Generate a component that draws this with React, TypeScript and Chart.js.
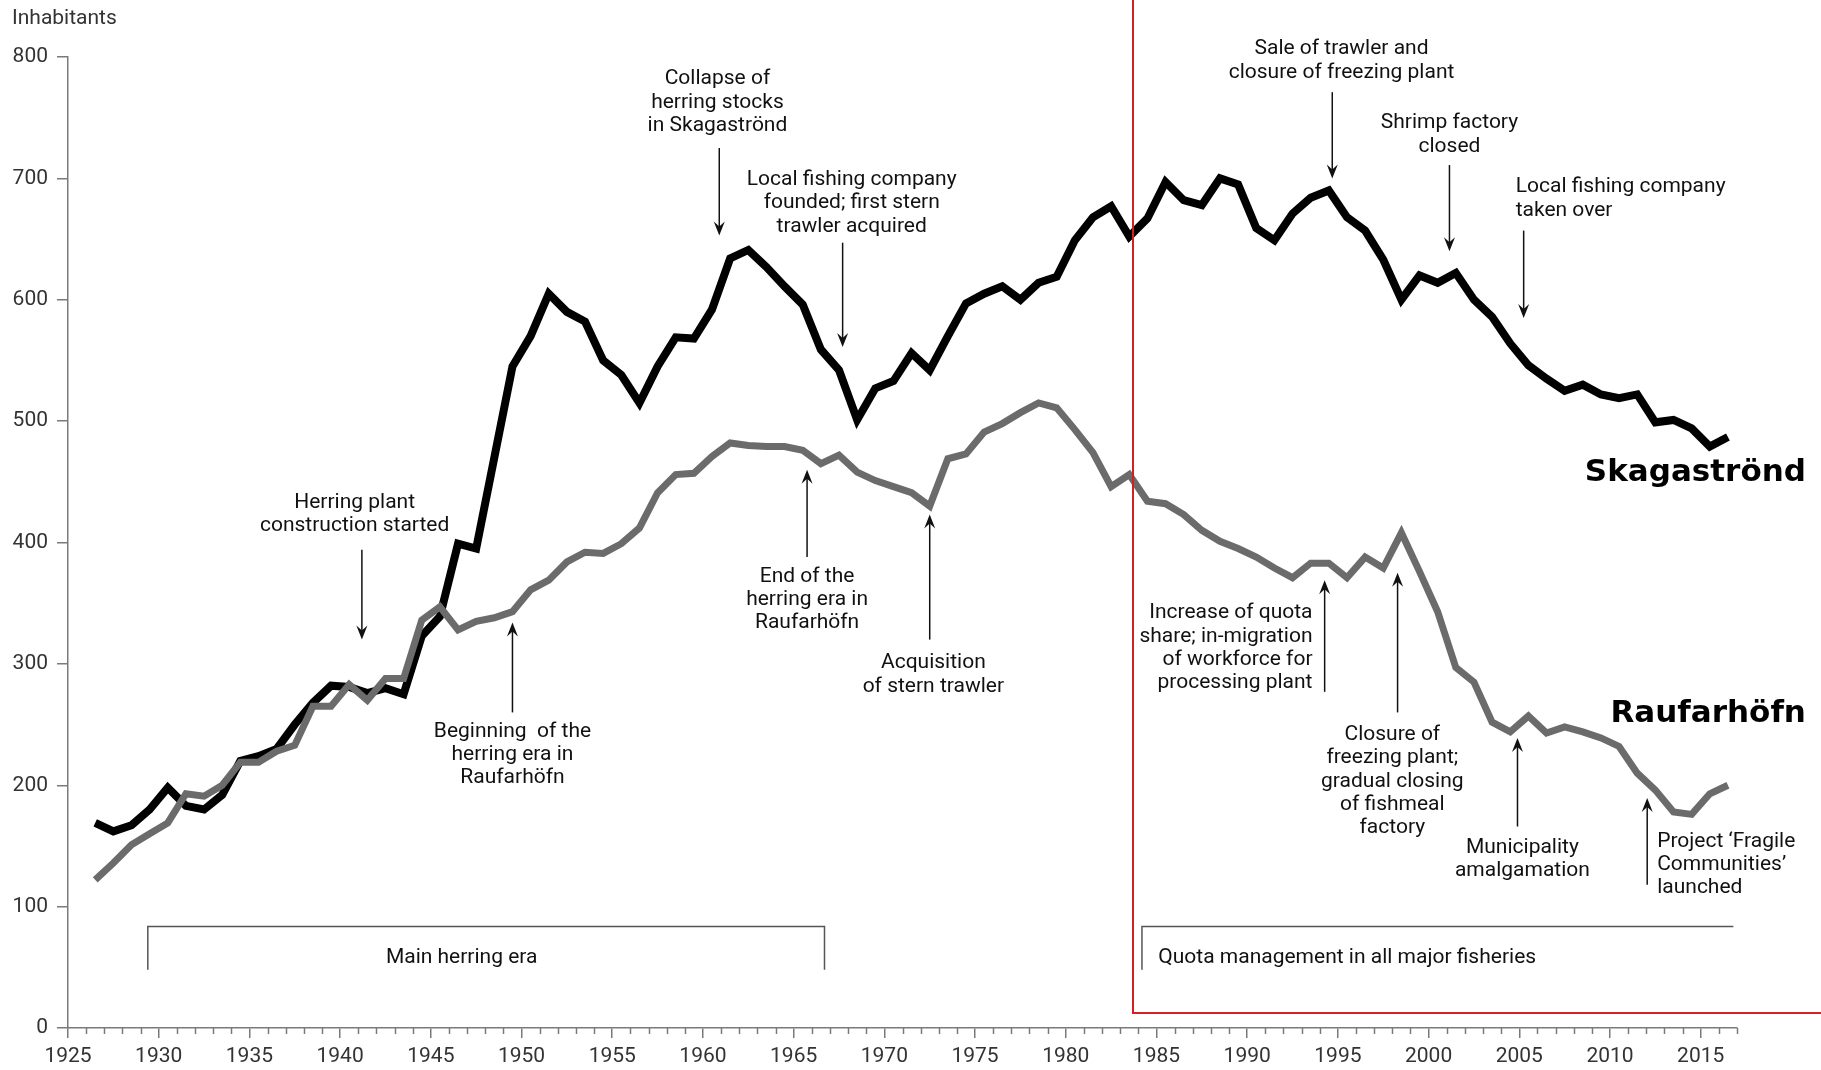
import React, { useEffect, useRef } from 'react';
import { Chart, registerables } from 'chart.js';

Chart.register(...registerables);

// ---------- data ----------
const YEARS = [
  1926, 1927, 1928, 1929, 1930, 1931, 1932, 1933, 1934, 1935,
  1936, 1937, 1938, 1939, 1940, 1941, 1942, 1943, 1944, 1945,
  1946, 1947, 1948, 1949, 1950, 1951, 1952, 1953, 1954, 1955,
  1956, 1957, 1958, 1959, 1960, 1961, 1962, 1963, 1964, 1965,
  1966, 1967, 1968, 1969, 1970, 1971, 1972, 1973, 1974, 1975,
  1976, 1977, 1978, 1979, 1980, 1981, 1982, 1983, 1984, 1985,
  1986, 1987, 1988, 1989, 1990, 1991, 1992, 1993, 1994, 1995,
  1996, 1997, 1998, 1999, 2000, 2001, 2002, 2003, 2004, 2005,
  2006, 2007, 2008, 2009, 2010, 2011, 2012, 2013, 2014, 2015,
  2016,
];

const SKAGASTROND = [
  169, 162, 167, 180, 198, 183, 180, 192, 220, 224,
  230, 250, 268, 282, 281, 276, 280, 275, 323, 339,
  399, 395, 470, 545, 570, 605, 590, 582, 550, 538,
  515, 545, 569, 568, 592, 634, 641, 627, 611, 596,
  559, 542, 501, 527, 533, 556, 542, 570, 597, 605,
  611, 600, 614, 619, 649, 668, 677, 652, 667, 697,
  682, 678, 700, 695, 659, 649, 671, 684, 690, 668,
  657, 633, 600, 620, 614, 622, 600, 586, 564, 546,
  535, 525, 530, 522, 519, 522, 499, 501, 494, 479,
  487,
];

const RAUFARHOFN = [
  122, 136, 151, 160, 169, 193, 191, 200, 219, 219,
  228, 233, 265, 265, 283, 270, 288, 288, 336, 347,
  328, 335, 338, 343, 361, 369, 384, 392, 391, 399,
  412, 441, 456, 457, 471, 482, 480, 479, 479, 476,
  465, 472, 458, 451, 446, 441, 430, 469, 473, 491,
  498, 507, 515, 511, 493, 474, 446, 456, 434, 432,
  423, 410, 401, 395, 388, 379, 371, 383, 383, 371,
  388, 379, 408, 376, 343, 297, 285, 252, 244, 257,
  243, 248, 244, 239, 232, 210, 196, 178, 176, 193,
  200,
];

const X_TICKS = [1925, 1930, 1935, 1940, 1945, 1950, 1955, 1960, 1965, 1970, 1975, 1980, 1985, 1990, 1995, 2000, 2005, 2010, 2015];
const Y_TICKS = [0, 100, 200, 300, 400, 500, 600, 700, 800];

const SERIES_NAMES = ['Skagaströnd', 'Raufarhöfn'];

// annotations: text anchor (year, value), arrow (year, tail value -> tip value)
const ANNOTATIONS = [
  { lines: ['Herring plant', 'construction started'], tx: 1940.8, ty: 432.6, align: 'center', ax: 1941.2, a0: 394, a1: 320 },
  { lines: ['Beginning  of the', 'herring era in', 'Raufarhöfn'], tx: 1949.5, ty: 244.3, align: 'center', ax: 1949.5, a0: 260, a1: 334 },
  { lines: ['Collapse of', 'herring stocks', 'in Skagaströnd'], tx: 1960.8, ty: 781.9, align: 'center', ax: 1960.9, a0: 725, a1: 653 },
  { lines: ['Local fishing company', 'founded; first stern', 'trawler acquired'], tx: 1968.2, ty: 698.8, align: 'center', ax: 1967.7, a0: 647, a1: 561 },
  { lines: ['End of the', 'herring era in', 'Raufarhöfn'], tx: 1965.74, ty: 372, align: 'center', ax: 1965.74, a0: 388, a1: 460 },
  { lines: ['Acquisition', 'of stern trawler'], tx: 1972.7, ty: 300.7, align: 'center', ax: 1972.5, a0: 320, a1: 423 },
  { lines: ['Sale of trawler and', 'closure of freezing plant'], tx: 1995.2, ty: 806.4, align: 'center', ax: 1994.69, a0: 771, a1: 700 },
  { lines: ['Shrimp factory', 'closed'], tx: 2001.15, ty: 745.5, align: 'center', ax: 2001.15, a0: 711, a1: 640 },
  { lines: ['Local fishing company', 'taken over'], tx: 2004.8, ty: 692.7, align: 'left', ax: 2005.24, a0: 657, a1: 585 },
  { lines: ['Increase of quota', 'share; in-migration', 'of workforce for', 'processing plant'], tx: 1993.6, ty: 341.8, align: 'right', ax: 1994.27, a0: 277, a1: 369 },
  { lines: ['Closure of', 'freezing plant;', 'gradual closing', 'of fishmeal', 'factory'], tx: 1998.0, ty: 241.6, align: 'center', ax: 1998.29, a0: 260, a1: 375 },
  { lines: ['Municipality', 'amalgamation'], tx: 2005.17, ty: 148.8, align: 'center', ax: 2004.9, a0: 166, a1: 239 },
  { lines: ['Project ‘Fragile', 'Communities’', 'launched'], tx: 2012.6, ty: 153.7, align: 'left', ax: 2012.05, a0: 118, a1: 189.5 },
];

const SERIES_LABELS = [
  { text: 'Skagaströnd', x: 2020.8, y: 457 },
  { text: 'Raufarhöfn', x: 2020.8, y: 259 },
];

const PERIODS = [
  { text: 'Main herring era', from: 1929.4, to: 1966.7, closed: true, textX: 1946.7, align: 'center' },
  { text: 'Quota management in all major fisheries', from: 1984.2, to: 2016.8, closed: false, textX: 1985.1, align: 'left' },
];

const QUOTA_BOX_YEAR = 1983.7;

// ---------- styles ----------
const AXIS = '#7a7a7a';
const TEXT = '#111';
const TICK_TEXT = '#333';
const FONT = 'Roboto';

function drawArrow(ctx: CanvasRenderingContext2D, x: number, yTail: number, yTip: number) {
  const dir = yTip > yTail ? 1 : -1;
  ctx.beginPath();
  ctx.moveTo(x, yTail);
  ctx.lineTo(x, yTip - dir * 8);
  ctx.stroke();
  ctx.beginPath();
  ctx.moveTo(x, yTip);
  ctx.lineTo(x - 5.5, yTip - dir * 14);
  ctx.lineTo(x, yTip - dir * 9);
  ctx.lineTo(x + 5.5, yTip - dir * 14);
  ctx.closePath();
  ctx.fill();
}

const overlayPlugin = {
  id: 'overlay',
  afterDraw(chart: any) {
    const ctx: CanvasRenderingContext2D = chart.ctx;
    const xs = chart.scales.x;
    const ys = chart.scales.y;
    const px = (v: number) => xs.getPixelForValue(v);
    const py = (v: number) => ys.getPixelForValue(v);
    ctx.save();

    // minor ticks
    ctx.strokeStyle = AXIS;
    ctx.lineWidth = 1.5;
    const y0 = py(0);
    for (let yr = Math.ceil(xs.min); yr <= xs.max; yr++) {
      if (yr % 5 === 0) continue;
      const xx = Math.round(px(yr)) + 0.5;
      ctx.beginPath();
      ctx.moveTo(xx, y0);
      ctx.lineTo(xx, y0 + 6);
      ctx.stroke();
    }

    // y axis title
    ctx.fillStyle = TICK_TEXT;
    ctx.font = `21px ${FONT}`;
    ctx.textAlign = 'left';
    ctx.textBaseline = 'middle';
    ctx.fillText('Inhabitants', 12, 19);

    // period brackets
    ctx.strokeStyle = '#555';
    ctx.lineWidth = 1.5;
    const bTop = py(83.7);
    const bBot = py(48);
    PERIODS.forEach((p) => {
      ctx.beginPath();
      ctx.moveTo(px(p.from), bBot);
      ctx.lineTo(px(p.from), bTop);
      ctx.lineTo(px(p.to), bTop);
      if (p.closed) ctx.lineTo(px(p.to), bBot);
      ctx.stroke();
      ctx.fillStyle = TEXT;
      ctx.font = `21px ${FONT}`;
      ctx.textAlign = p.align as CanvasTextAlign;
      ctx.textBaseline = 'middle';
      ctx.fillText(p.text, px(p.textX), py(57.9));
    });

    // annotations
    ctx.strokeStyle = '#111';
    ctx.fillStyle = '#111';
    ctx.lineWidth = 1.5;
    ANNOTATIONS.forEach((a) => {
      drawArrow(ctx, px(a.ax), py(a.a0), py(a.a1));
      ctx.font = `21px ${FONT}`;
      ctx.textAlign = a.align as CanvasTextAlign;
      ctx.textBaseline = 'middle';
      a.lines.forEach((line, i) => {
        ctx.fillText(line, px(a.tx), py(a.ty) + i * 23.3);
      });
    });

    // series labels
    ctx.fillStyle = '#000';
    ctx.font = `bold 31px "DejaVu Sans"`;
    ctx.textAlign = 'right';
    ctx.textBaseline = 'middle';
    SERIES_LABELS.forEach((l) => ctx.fillText(l.text, px(l.x), py(l.y)));

    // red quota box
    ctx.strokeStyle = '#d42020';
    ctx.lineWidth = 2;
    const rx = Math.round(px(QUOTA_BOX_YEAR));
    const rb = Math.round(py(12.4));
    ctx.beginPath();
    ctx.moveTo(rx, 0);
    ctx.lineTo(rx, rb);
    ctx.lineTo(chart.width + 5, rb);
    ctx.stroke();

    ctx.restore();
  },
};

export default function App() {
  const canvasRef = useRef<HTMLCanvasElement | null>(null);

  useEffect(() => {
    const canvas = canvasRef.current;
    if (!canvas) return;
    const chart = new Chart(canvas, {
      type: 'line',
      data: {
        datasets: [
          {
            label: SERIES_NAMES[1],
            data: YEARS.map((yr, i) => ({ x: yr + 0.5, y: RAUFARHOFN[i] })),
            borderColor: '#6b6b6b',
            borderWidth: 7,
            pointRadius: 0,
            borderJoinStyle: 'miter',
            tension: 0,
            fill: false,
          },
          {
            label: SERIES_NAMES[0],
            data: YEARS.map((yr, i) => ({ x: yr + 0.5, y: SKAGASTROND[i] })),
            borderColor: '#000000',
            borderWidth: 8,
            pointRadius: 0,
            borderJoinStyle: 'miter',
            tension: 0,
            fill: false,
          },
        ],
      },
      options: {
        animation: false,
        responsive: false,
        devicePixelRatio: 1,
        layout: { padding: { top: 57, right: 84, left: 0, bottom: 0 } },
        plugins: { legend: { display: false }, tooltip: { enabled: false } },
        scales: {
          x: {
            type: 'linear',
            min: 1925,
            max: 2017,
            afterBuildTicks: (s: any) => {
              s.ticks = X_TICKS.map((v) => ({ value: v }));
            },
            afterFit: (s: any) => {
              s.height = 42;
            },
            grid: {
              drawOnChartArea: false,
              drawTicks: true,
              tickLength: 10,
              color: AXIS,
              lineWidth: 1.5,
              tickWidth: 1.5,
            },
            border: { display: true, color: AXIS, width: 1.5 },
            ticks: {
              font: { family: FONT, size: 21 },
              color: TICK_TEXT,
              padding: 6,
              maxRotation: 0,
              autoSkip: false,
              callback: (v: any) => String(v),
            },
          },
          y: {
            type: 'linear',
            min: 0,
            max: 800,
            afterBuildTicks: (s: any) => {
              s.ticks = Y_TICKS.map((v) => ({ value: v }));
            },
            afterFit: (s: any) => {
              s.width = 68;
            },
            grid: {
              drawOnChartArea: false,
              drawTicks: true,
              tickLength: 11,
              color: AXIS,
              lineWidth: 1.5,
              tickWidth: 1.5,
            },
            border: { display: true, color: AXIS, width: 1.5 },
            ticks: {
              font: { family: FONT, size: 21 },
              color: TICK_TEXT,
              padding: 9,
              autoSkip: false,
              callback: (v: any) => String(v),
            },
          },
        },
      },
      plugins: [overlayPlugin],
    } as any);
    return () => chart.destroy();
  }, []);

  return (
    <div style={{ position: 'absolute', left: 0, top: 0, width: 1821, height: 1070, background: '#fff' }}>
      <canvas ref={canvasRef} width={1821} height={1070} style={{ display: 'block', width: 1821, height: 1070 }} />
    </div>
  );
}
